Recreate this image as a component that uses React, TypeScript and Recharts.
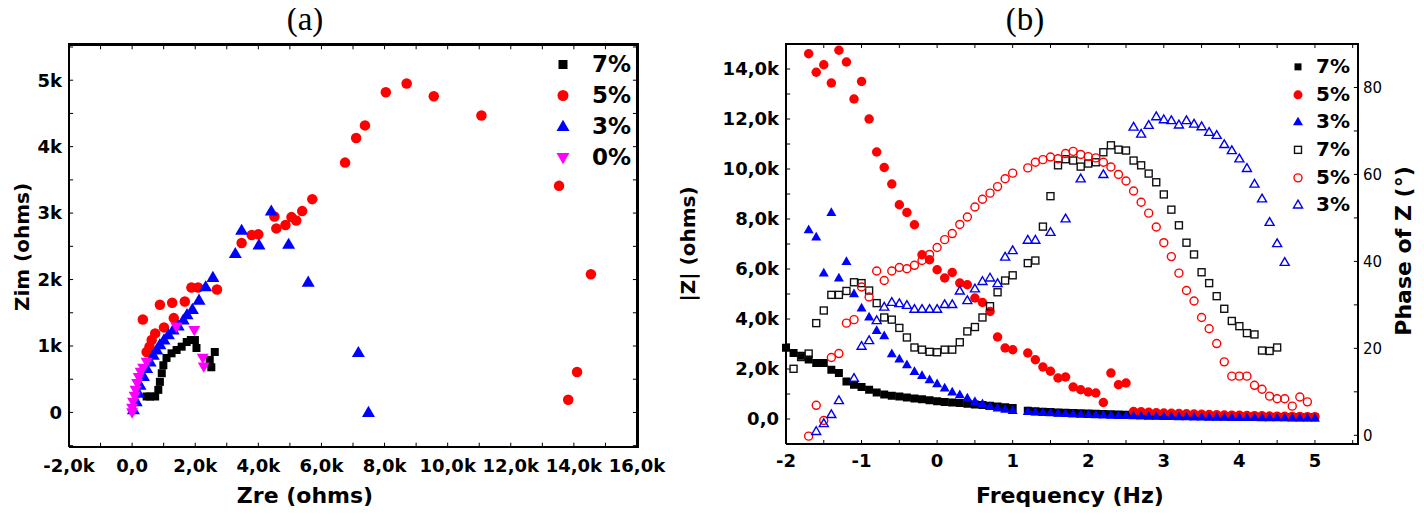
// Impedance plots — (a) Nyquist scatter, (b) Bode |Z| + phase, both drawn with Recharts ScatterChart.
import { ScatterChart, Scatter, XAxis, YAxis, Legend, ReferenceLine } from "recharts";

// ---- (a) Nyquist: [Zre, Zim] in ohms ----
const nyqSeven = [
  [460, 240], [570, 240], [730, 240], [830, 340], [880, 460], [940, 590], [990, 710],
  [1090, 820], [1250, 890], [1410, 940], [1570, 990], [1730, 1060], [1860, 1090],
  [1990, 1090], [2040, 970], [2620, 910], [2460, 790], [2510, 680],
];
const nyqFive = [
  [340, 1400], [460, 910], [550, 990], [620, 1090], [730, 1190], [1010, 1280], [880, 1620],
  [1270, 1650], [1320, 1420], [1670, 1670], [1880, 1880], [2090, 1880], [2690, 1850],
  [3470, 2550], [3790, 2670], [4000, 2680], [4570, 2770], [4510, 2950], [4860, 2820],
  [5050, 2940], [5200, 2890], [5390, 3030], [5710, 3210], [6750, 3760], [7100, 4130],
  [7380, 4320], [8040, 4820], [8700, 4950], [9560, 4760], [11070, 4470], [13530, 3410],
  [14540, 2080], [14100, 610], [13820, 190],
];
const nyqThree = [
  [40, 40], [130, 160], [200, 290], [250, 410], [360, 540], [460, 660], [570, 760],
  [670, 860], [780, 940], [880, 1020], [1010, 1090], [1150, 1170], [1300, 1240],
  [1460, 1300], [1620, 1390], [1740, 1470], [1910, 1550], [2120, 1690], [2330, 1890],
  [2560, 2030], [3270, 2390], [3470, 2740], [4020, 2520], [4410, 3030], [4960, 2530],
  [5580, 1960], [7170, 900], [7490, 0],
];
const nyqZero = [
  [0, 0], [0, 70], [30, 160], [80, 250], [110, 340], [160, 440], [210, 530], [270, 610],
  [350, 670], [460, 760], [1400, 1290], [1970, 1240], [2240, 820], [2270, 690],
];

// ---- (b) Bode: [log f, |Z| ohms] ----
const magSeven = [
  [-2.0, 2850], [-1.9, 2640], [-1.8, 2530], [-1.7, 2380], [-1.6, 2240], [-1.5, 2240],
  [-1.4, 1970], [-1.3, 1840], [-1.2, 1500], [-1.1, 1370], [-1.0, 1280], [-0.9, 1170],
  [-0.8, 1060], [-0.7, 980], [-0.6, 930], [-0.5, 900], [-0.4, 860], [-0.3, 820],
  [-0.2, 790], [-0.1, 750], [0.0, 710], [0.1, 680], [0.2, 660], [0.3, 640], [0.4, 610],
  [0.5, 580], [0.6, 560], [0.7, 530], [0.8, 500], [0.9, 470], [1.0, 440],
  [1.2, 330], [1.3, 310], [1.4, 290], [1.5, 280], [1.6, 260], [1.7, 250], [1.8, 240],
  [1.9, 230], [2.0, 220], [2.1, 210], [2.2, 200], [2.3, 190], [2.4, 180], [2.5, 170],
  [2.6, 165], [2.7, 160], [2.8, 150], [2.9, 145], [3.0, 140], [3.1, 135], [3.2, 130],
  [3.3, 125], [3.4, 120], [3.5, 115], [3.6, 110], [3.7, 105], [3.8, 100], [3.9, 100],
  [4.0, 95], [4.1, 90], [4.2, 90], [4.3, 85], [4.4, 80], [4.5, 80], [4.6, 75], [4.7, 75],
  [4.8, 70], [4.9, 70], [5.0, 65],
];
const magFive = [
  [-1.7, 14610], [-1.6, 13870], [-1.5, 14170], [-1.4, 13440], [-1.3, 14750], [-1.2, 14280],
  [-1.1, 12800], [-1.0, 13500], [-0.9, 12000], [-0.8, 10680], [-0.7, 10060], [-0.6, 9400],
  [-0.5, 8570], [-0.4, 8260], [-0.3, 7770], [-0.2, 6570], [-0.1, 6370], [0.0, 5970],
  [0.1, 5640], [0.2, 5860], [0.3, 5440], [0.4, 5370], [0.5, 4840], [0.6, 4660], [0.7, 4300],
  [0.8, 3280], [0.9, 2840], [1.0, 2770], [1.2, 2640], [1.3, 2370], [1.4, 2080], [1.5, 1910],
  [1.6, 1640], [1.7, 1680], [1.8, 1280], [1.9, 1170], [2.0, 1080], [2.1, 1040], [2.2, 660],
  [2.3, 1840], [2.4, 1370], [2.5, 1440], [2.6, 300], [2.7, 290], [2.8, 270], [2.9, 250],
  [3.0, 240], [3.1, 230], [3.2, 220], [3.3, 210], [3.4, 200], [3.5, 190], [3.6, 180],
  [3.7, 170], [3.8, 160], [3.9, 155], [4.0, 150], [4.1, 140], [4.2, 135], [4.3, 130],
  [4.4, 120], [4.5, 115], [4.6, 110], [4.7, 105], [4.8, 100], [4.9, 95], [5.0, 90],
];
const magThree = [
  [-1.7, 7570], [-1.6, 7280], [-1.5, 5840], [-1.4, 8260], [-1.3, 5640], [-1.2, 6300],
  [-1.1, 5010], [-1.0, 4440], [-0.9, 4080], [-0.8, 3540], [-0.7, 3330], [-0.6, 2610],
  [-0.5, 2400], [-0.4, 2170], [-0.3, 1900], [-0.2, 1740], [-0.1, 1570], [0.0, 1410],
  [0.1, 1240], [0.2, 1080], [0.3, 970], [0.4, 840], [0.5, 700], [0.6, 610], [0.7, 500],
  [0.8, 440], [0.9, 390], [1.0, 340], [1.2, 300], [1.3, 280], [1.4, 260], [1.5, 245],
  [1.6, 230], [1.7, 215], [1.8, 200], [1.9, 190], [2.0, 180], [2.1, 170], [2.2, 160],
  [2.3, 150], [2.4, 140], [2.5, 135], [2.6, 125], [2.7, 120], [2.8, 110], [2.9, 105],
  [3.0, 100], [3.1, 95], [3.2, 90], [3.3, 85], [3.4, 80], [3.5, 75], [3.6, 70], [3.7, 70],
  [3.8, 65], [3.9, 60], [4.0, 60], [4.1, 55], [4.2, 55], [4.3, 50], [4.4, 50], [4.5, 45],
  [4.6, 45], [4.7, 40], [4.8, 40], [4.9, 40], [5.0, 35],
];

// ---- (b) Bode: [log f, phase deg] ----
const phSeven = [
  [-1.9, 15.3], [-1.8, 18.0], [-1.7, 18.8], [-1.6, 25.8], [-1.5, 28.7], [-1.4, 32.3],
  [-1.3, 32.3], [-1.2, 33.2], [-1.1, 35.2], [-1.0, 35.0], [-0.9, 33.3], [-0.8, 30.4],
  [-0.7, 27.1], [-0.6, 26.6], [-0.5, 24.7], [-0.4, 22.5], [-0.3, 20.2], [-0.2, 19.7],
  [-0.1, 19.2], [0.0, 19.1], [0.1, 19.7], [0.2, 19.7], [0.3, 21.4], [0.4, 23.9], [0.5, 24.9],
  [0.6, 27.1], [0.7, 29.7], [0.8, 32.9], [0.9, 35.6], [1.0, 36.8], [1.2, 39.6], [1.3, 40.2],
  [1.4, 48.0], [1.5, 55.0], [1.6, 62.1], [1.7, 63.5], [1.8, 63.2], [1.9, 61.8], [2.0, 62.5],
  [2.1, 62.8], [2.2, 65.1], [2.3, 66.7], [2.4, 65.7], [2.5, 65.5], [2.6, 63.2], [2.7, 62.1],
  [2.8, 60.2], [2.9, 58.2], [3.0, 55.4], [3.1, 51.9], [3.2, 48.3], [3.3, 44.3], [3.4, 41.6],
  [3.5, 37.5], [3.6, 35.0], [3.7, 32.0], [3.8, 29.1], [3.9, 26.3], [4.0, 25.1], [4.1, 23.5],
  [4.2, 23.2], [4.3, 19.5], [4.4, 19.4], [4.5, 20.2],
];
const phFive = [
  [-1.7, -0.2], [-1.6, 6.9], [-1.5, 3.4], [-1.4, 17.9], [-1.3, 18.8], [-1.2, 25.8],
  [-1.1, 26.6], [-1.0, 34.1], [-0.9, 31.8], [-0.8, 37.8], [-0.7, 35.6], [-0.6, 37.8],
  [-0.5, 38.6], [-0.4, 38.3], [-0.3, 39.1], [-0.2, 40.2], [-0.1, 41.6], [0.0, 43.2],
  [0.1, 45.0], [0.2, 46.4], [0.3, 48.5], [0.4, 50.2], [0.5, 52.5], [0.6, 54.3], [0.7, 55.7],
  [0.8, 57.2], [0.9, 59.0], [1.0, 60.3], [1.2, 61.5], [1.3, 62.8], [1.4, 63.4], [1.5, 64.0],
  [1.6, 63.6], [1.7, 64.8], [1.8, 65.3], [1.9, 64.6], [2.0, 64.1], [2.1, 63.8], [2.2, 62.8],
  [2.3, 61.7], [2.4, 60.0], [2.5, 58.5], [2.6, 56.2], [2.7, 53.6], [2.8, 51.1], [2.9, 47.9],
  [3.0, 44.3], [3.1, 41.1], [3.2, 37.3], [3.3, 33.3], [3.4, 30.9], [3.5, 27.1], [3.6, 24.5],
  [3.7, 21.1], [3.8, 16.9], [3.9, 13.6], [4.0, 13.6], [4.1, 13.6], [4.2, 11.5], [4.3, 10.6],
  [4.4, 9.0], [4.5, 8.4], [4.6, 8.4], [4.7, 6.7], [4.8, 8.8], [4.9, 7.7],
];
const phThree = [
  [-1.6, 0.9], [-1.5, 2.7], [-1.4, 4.8], [-1.3, 8.0], [-1.1, 13.1], [-1.0, 20.5],
  [-0.9, 21.8], [-0.8, 26.4], [-0.7, 29.5], [-0.6, 30.6], [-0.5, 30.3], [-0.4, 29.9],
  [-0.3, 29.0], [-0.2, 29.0], [-0.1, 29.0], [0.0, 29.0], [0.1, 30.1], [0.2, 30.1], [0.3, 33.2],
  [0.4, 31.0], [0.5, 33.7], [0.6, 35.4], [0.7, 36.2], [0.8, 34.9], [0.9, 41.0], [1.0, 42.5],
  [1.2, 44.9], [1.3, 44.9], [1.5, 46.7], [1.7, 49.8], [1.9, 59.0], [2.2, 60.0], [2.6, 70.9],
  [2.7, 69.3], [2.8, 71.3], [2.9, 73.3], [3.0, 72.6], [3.1, 72.4], [3.2, 71.4], [3.3, 72.4],
  [3.4, 71.6], [3.5, 71.0], [3.6, 69.7], [3.7, 69.0], [3.8, 66.9], [3.9, 65.5], [4.0, 63.6],
  [4.1, 61.4], [4.2, 57.8], [4.3, 54.4], [4.4, 49.0], [4.5, 44.1], [4.6, 39.8],
];

// ---- ticks ----
const aTicksX = [-2000, 0, 2000, 4000, 6000, 8000, 10000, 12000, 14000, 16000];
const aTicksY = [0, 1000, 2000, 3000, 4000, 5000];
const aMinorX = [-1000, 0, 1000, 2000, 3000, 4000, 5000, 6000, 7000, 8000, 9000, 10000, 11000, 12000, 13000, 14000, 15000];
const aMinorY = [-500, 0, 500, 1000, 1500, 2000, 2500, 3000, 3500, 4000, 4500, 5000, 5500];
const bTicksX = [-2, -1, 0, 1, 2, 3, 4, 5];
const bTicksMag = [0, 2000, 4000, 6000, 8000, 10000, 12000, 14000];
const bTicksPh = [0, 20, 40, 60, 80];
const bMinorX = [-1.5, -1, -0.5, 0, 0.5, 1, 1.5, 2, 2.5, 3, 3.5, 4, 4.5, 5, 5.5];
const bMinorMag = [0, 1000, 2000, 3000, 4000, 5000, 6000, 7000, 8000, 9000, 10000, 11000, 12000, 13000, 14000];
const bMinorPh = [0, 10, 20, 30, 40, 50, 60, 70, 80];

const legendA = ["7%", "5%", "3%", "0%"];
const legendB = ["7%", "5%", "3%", "7%", "5%", "3%"];

const A_X: [number, number] = [-2000, 16000];
const A_Y: [number, number] = [-520, 5530];
const B_X: [number, number] = [-2, 5.57];
const B_MAG: [number, number] = [-1000, 15000];
const B_PH: [number, number] = [-2, 90];

const FONT = "'DejaVu Sans', sans-serif";
const tickBold = { fontFamily: FONT, fontWeight: "bold", fontSize: 18, fill: "#000" };
const tickPlain = { fontFamily: FONT, fontSize: 15, fill: "#000" };
const frameLine = { stroke: "#000", strokeWidth: 2 };

type Kind = "square" | "circle" | "tri" | "itri";
interface Style { kind: Kind; color: string; filled: boolean; size: number }

const pts = (arr: number[][]) => arr.map(([x, y]) => ({ x, y }));
const kFmt = (v: number) => (v === 0 ? "0,0" : `${v / 1000},0k`);

// inward minor ticks as short segments in data units
type Seg = [{ x: number; y: number }, { x: number; y: number }];
const seg = (x1: number, y1: number, x2: number, y2: number): Seg => [{ x: x1, y: y1 }, { x: x2, y: y2 }];
const xTickSegs = (xs: number[], yd: [number, number], len: number): Seg[] =>
  xs.flatMap((x) => [seg(x, yd[0], x, yd[0] + len), seg(x, yd[1], x, yd[1] - len)]);
const yTickSegs = (ys: number[], xEdge: number, len: number): Seg[] => ys.map((y) => seg(xEdge, y, xEdge + len, y));

function Mark({ cx, cy, s }: { cx?: number; cy?: number; s: Style }) {
  if (cx == null || cy == null) return null;
  const { kind, color, filled, size } = s;
  const p = {
    fill: filled ? color : "none",
    stroke: filled ? "none" : color,
    strokeWidth: filled ? 0 : 1.4,
  };
  const h = size / 2;
  if (kind === "square") return <rect x={cx - h} y={cy - h} width={size} height={size} {...p} />;
  if (kind === "circle") return <circle cx={cx} cy={cy} r={h} {...p} />;
  const th = size * 0.86;
  if (kind === "tri")
    return <path d={`M${cx},${cy - th * 0.6}L${cx + h},${cy + th * 0.4}L${cx - h},${cy + th * 0.4}Z`} {...p} />;
  return <path d={`M${cx},${cy + th * 0.6}L${cx + h},${cy - th * 0.4}L${cx - h},${cy - th * 0.4}Z`} {...p} />;
}

const stA: Style[] = [
  { kind: "square", color: "#000000", filled: true, size: 8 },
  { kind: "circle", color: "#ff0000", filled: true, size: 10.5 },
  { kind: "tri", color: "#0000ff", filled: true, size: 13 },
  { kind: "itri", color: "#ff00ff", filled: true, size: 12 },
];
const stB: Style[] = [
  { kind: "square", color: "#000000", filled: true, size: 8 },
  { kind: "circle", color: "#ff0000", filled: true, size: 9.5 },
  { kind: "tri", color: "#0000ff", filled: true, size: 10 },
  { kind: "square", color: "#111111", filled: false, size: 7 },
  { kind: "circle", color: "#ff0000", filled: false, size: 8 },
  { kind: "tri", color: "#0000ee", filled: false, size: 9 },
];
const legStA: Style[] = [
  { ...stA[0], size: 9 }, { ...stA[1], size: 11 }, { ...stA[2], size: 13 }, { ...stA[3], size: 13 },
];
const legStB: Style[] = [
  { ...stB[0], size: 7 }, { ...stB[1], size: 9 }, { ...stB[2], size: 10 },
  { ...stB[3], size: 7 }, { ...stB[4], size: 8 }, { ...stB[5], size: 9 },
];

function LegendBox({ labels, styles, rowH, fontSize, gap }: { labels: string[]; styles: Style[]; rowH: number; fontSize: number; gap: number }) {
  return (
    <div>
      {labels.map((l, i) => (
        <div key={i} style={{ display: "flex", alignItems: "center", height: rowH }}>
          <svg width={16} height={rowH}>
            <Mark cx={8} cy={rowH / 2} s={styles[i]} />
          </svg>
          <span style={{ marginLeft: gap, fontFamily: FONT, fontWeight: "bold", fontSize, lineHeight: `${rowH}px` }}>{l}</span>
        </div>
      ))}
    </div>
  );
}

function Text({ x, y, text, size, rotate, serif }: { x: number; y: number; text: string; size: number; rotate?: boolean; serif?: boolean }) {
  return (
    <div
      style={{
        position: "absolute",
        left: x,
        top: y,
        transform: `translate(-50%, -50%)${rotate ? " rotate(-90deg)" : ""}`,
        whiteSpace: "nowrap",
        fontFamily: serif ? "'Liberation Serif', serif" : FONT,
        fontWeight: serif ? "normal" : "bold",
        fontSize: size,
        lineHeight: 1.15,
      }}
    >
      {text}
    </div>
  );
}

// top and right edges of a plot frame, as plain lines over the chart
function Box({ x, y, w, h }: { x: number; y: number; w: number; h: number }) {
  const line = { position: "absolute" as const, background: "#000", zIndex: 10 };
  return (
    <>
      <div style={{ ...line, left: x - 1, top: y - 1, width: w + 2, height: 2 }} />
      <div style={{ ...line, left: x + w - 1, top: y - 1, width: 2, height: h + 2 }} />
    </>
  );
}

const shapeOf = (s: Style) => (p: any) => <Mark cx={p.cx} cy={p.cy} s={s} />;
const noShape = () => <g />;

function NyquistChart() {
  const series = [nyqSeven, nyqFive, nyqThree, nyqZero];
  const segs = [
    ...xTickSegs(aMinorX, A_Y, 65),
    ...yTickSegs(aMinorY, A_X[0], 130),
    ...yTickSegs(aMinorY, A_X[1], -130),
  ];
  return (
    <ScatterChart width={700} height={516} margin={{ top: 44, right: 62, bottom: 39, left: 9 }}>
      <XAxis xAxisId="x" dataKey="x" type="number" domain={A_X} ticks={aTicksX} tickFormatter={kFmt} tick={tickBold} tickLine={false} tickSize={0} tickMargin={12} height={30} axisLine={frameLine} interval={0} />
      <XAxis xAxisId="xt" dataKey="x" type="number" orientation="top" domain={A_X} ticks={aTicksX} tick={false} tickLine={false} height={1} axisLine={frameLine} />
      <YAxis yAxisId="y" dataKey="y" type="number" domain={A_Y} ticks={aTicksY} tickFormatter={(v: number) => (v === 0 ? "0" : `${v / 1000}k`)} tick={tickBold} tickLine={false} tickSize={0} tickMargin={7} width={60} axisLine={frameLine} interval={0} />
      <YAxis yAxisId="yr" dataKey="y" type="number" orientation="right" domain={A_Y} ticks={aTicksY} tick={false} tickLine={false} width={1} axisLine={frameLine} />
      <Scatter xAxisId="xt" yAxisId="yr" data={pts(nyqSeven)} shape={noShape} isAnimationActive={false} />
      {segs.map((s, i) => (
        <ReferenceLine key={`t${i}`} xAxisId="x" yAxisId="y" segment={s} stroke="#000" strokeWidth={1} ifOverflow="extendDomain" />
      ))}
      {series.map((d, i) => (
        <Scatter key={i} xAxisId="x" yAxisId="y" data={pts(d)} shape={shapeOf(stA[i])} isAnimationActive={false} />
      ))}
      <Legend
        layout="horizontal"
        verticalAlign="middle"
        align="center"
        wrapperStyle={{ position: "absolute", left: 555, top: 49, width: "auto", height: "auto" }}
        content={() => <LegendBox labels={legendA} styles={legStA} rowH={31} fontSize={23} gap={21} />}
      />
    </ScatterChart>
  );
}

function BodeChart() {
  const mags = [magSeven, magFive, magThree];
  const phs = [phSeven, phFive, phThree];
  const segsMag = [...xTickSegs(bMinorX, B_MAG, 160), ...yTickSegs(bMinorMag, B_X[0], 0.055)];
  const segsPh = yTickSegs(bMinorPh, B_X[1], -0.055);
  return (
    <ScatterChart width={714} height={516} margin={{ top: 43, right: 26, bottom: 42, left: 16 }}>
      <XAxis xAxisId="f" dataKey="x" type="number" domain={B_X} ticks={bTicksX} tick={tickBold} tickLine={false} tickSize={0} tickMargin={10} height={30} axisLine={frameLine} interval={0} />
      <XAxis xAxisId="ft" dataKey="x" type="number" orientation="top" domain={B_X} ticks={bTicksX} tick={false} tickLine={false} height={1} axisLine={frameLine} />
      <YAxis yAxisId="mag" dataKey="y" type="number" domain={B_MAG} ticks={bTicksMag} tickFormatter={kFmt} tick={tickBold} tickLine={false} tickSize={0} tickMargin={7} width={60} axisLine={frameLine} interval={0} />
      <YAxis yAxisId="ph" dataKey="y" type="number" orientation="right" domain={B_PH} ticks={bTicksPh} tick={tickPlain} tickLine={false} tickSize={0} tickMargin={5} width={40} axisLine={frameLine} interval={0} />
      <Scatter xAxisId="ft" yAxisId="mag" data={pts(magSeven)} shape={noShape} isAnimationActive={false} />
      {segsMag.map((s, i) => (
        <ReferenceLine key={`tm${i}`} xAxisId="f" yAxisId="mag" segment={s} stroke="#000" strokeWidth={1} ifOverflow="extendDomain" />
      ))}
      {segsPh.map((s, i) => (
        <ReferenceLine key={`tp${i}`} xAxisId="f" yAxisId="ph" segment={s} stroke="#000" strokeWidth={1} ifOverflow="extendDomain" />
      ))}
      {mags.map((d, i) => (
        <Scatter key={`m${i}`} xAxisId="f" yAxisId="mag" data={pts(d)} shape={shapeOf(stB[i])} isAnimationActive={false} />
      ))}
      {phs.map((d, i) => (
        <Scatter key={`p${i}`} xAxisId="f" yAxisId="ph" data={pts(d)} shape={shapeOf(stB[i + 3])} isAnimationActive={false} />
      ))}
      <Legend
        layout="horizontal"
        verticalAlign="middle"
        align="center"
        wrapperStyle={{ position: "absolute", left: 580, top: 53, width: "auto", height: "auto" }}
        content={() => <LegendBox labels={legendB} styles={legStB} rowH={27.7} fontSize={20} gap={10} />}
      />
    </ScatterChart>
  );
}

export default function App() {
  return (
    <div style={{ position: "relative", width: 1424, height: 516, margin: -8, background: "#fff", overflow: "hidden" }}>
      <div style={{ position: "absolute", left: 0, top: 0 }}>
        <NyquistChart />
      </div>
      <div style={{ position: "absolute", left: 710, top: 0 }}>
        <BodeChart />
      </div>
      <Box x={69} y={44} w={569} h={403} />
      <Box x={786} y={44} w={572} h={400} />
      <Text x={305} y={20} text="(a)" size={33} serif />
      <Text x={1025} y={20} text="(b)" size={33} serif />
      <Text x={22} y={247} text="Zim (ohms)" size={20} rotate />
      <Text x={305} y={496} text="Zre (ohms)" size={22} />
      <Text x={688} y={244} text="|Z| (ohms)" size={20} rotate />
      <Text x={1070} y={496} text="Frequency (Hz)" size={22} />
      <Text x={1404} y={251} text="Phase of Z (°)" size={22} rotate />
    </div>
  );
}
